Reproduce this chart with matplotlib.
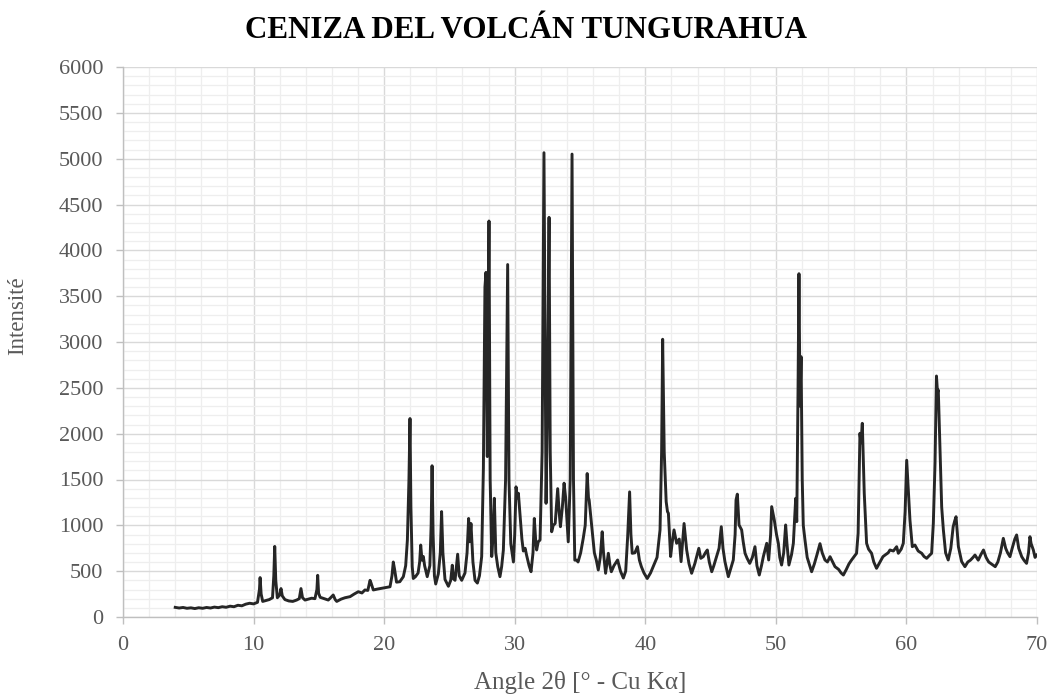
import matplotlib
matplotlib.use("Agg")
import matplotlib.pyplot as plt
from matplotlib.ticker import MultipleLocator

angle = [
    4.0, 4.3, 4.6, 4.9, 5.2, 5.5, 5.8, 6.1, 6.4, 6.7, 7.0, 7.3, 7.6, 7.9, 8.2, 8.5, 8.8, 9.1, 9.4, 9.7,
    10.0, 10.3, 10.45, 10.5, 10.58, 10.7, 10.9, 11.2, 11.45, 11.55, 11.62, 11.7, 11.82, 12.0, 12.1, 12.2,
    12.4, 12.7, 13.0, 13.3, 13.5, 13.63, 13.75, 13.94, 14.2, 14.45, 14.7, 14.85, 14.91, 14.98, 15.1, 15.4,
    15.72, 15.9, 16.1, 16.25, 16.37, 16.7, 17.0, 17.39, 17.7, 18.02, 18.3, 18.53, 18.75, 18.92, 19.0, 19.17,
    19.5, 19.81, 20.1, 20.45, 20.6, 20.7, 20.8, 20.95, 21.2, 21.47, 21.65, 21.78, 21.9, 21.98, 22.05, 22.15,
    22.23, 22.4, 22.6, 22.72, 22.8, 22.9, 23.0, 23.1, 23.3, 23.5, 23.6, 23.67, 23.75, 23.85, 23.95, 24.15,
    24.3, 24.4, 24.5, 24.66, 24.92, 25.1, 25.22, 25.3, 25.43, 25.63, 25.75, 25.94, 26.19, 26.35, 26.47,
    26.55, 26.65, 26.8, 26.96, 27.14, 27.3, 27.47, 27.6, 27.72, 27.8, 27.9, 28.03, 28.12, 28.24, 28.35,
    28.44, 28.55, 28.7, 28.87, 29.0, 29.13, 29.3, 29.46, 29.56, 29.7, 29.9, 30.0, 30.1, 30.2, 30.28, 30.4,
    30.55, 30.66, 30.8, 30.9, 31.1, 31.25, 31.4, 31.5, 31.6, 31.68, 31.8, 31.94, 32.1, 32.24, 32.35, 32.4,
    32.5, 32.63, 32.72, 32.83, 32.95, 33.1, 33.29, 33.4, 33.5, 33.65, 33.78, 33.9, 34.1, 34.25, 34.39, 34.5,
    34.6, 34.75, 34.85, 35.05, 35.25, 35.4, 35.55, 35.65, 35.7, 35.9, 36.1, 36.25, 36.4, 36.55, 36.7, 36.8,
    36.96, 37.17, 37.3, 37.4, 37.6, 37.88, 38.1, 38.32, 38.5, 38.65, 38.8, 38.9, 39.0, 39.2, 39.4, 39.55,
    39.7, 39.9, 40.15, 40.4, 40.6, 40.9, 41.13, 41.25, 41.33, 41.45, 41.6, 41.7, 41.77, 41.94, 42.05, 42.2,
    42.4, 42.6, 42.74, 42.97, 43.17, 43.35, 43.55, 43.8, 44.1, 44.25, 44.44, 44.6, 44.75, 44.9, 45.09,
    45.25, 45.46, 45.65, 45.82, 45.95, 46.1, 46.36, 46.55, 46.74, 46.88, 46.95, 47.05, 47.18, 47.38, 47.5,
    47.64, 47.8, 48.0, 48.2, 48.4, 48.55, 48.73, 48.9, 49.04, 49.3, 49.45, 49.6, 49.68, 49.88, 50.05, 50.19,
    50.3, 50.44, 50.6, 50.75, 50.85, 51.0, 51.2, 51.34, 51.52, 51.6, 51.7, 51.77, 51.85, 51.93, 52.02, 52.1,
    52.23, 52.4, 52.6, 52.74, 52.95, 53.15, 53.38, 53.55, 53.76, 53.95, 54.15, 54.35, 54.53, 54.8, 55.0,
    55.17, 55.4, 55.6, 55.8, 56.0, 56.18, 56.3, 56.44, 56.52, 56.62, 56.77, 56.95, 57.1, 57.33, 57.5, 57.71,
    57.9, 58.2, 58.4, 58.6, 58.74, 59.0, 59.25, 59.38, 59.6, 59.76, 59.9, 60.02, 60.1, 60.27, 60.45, 60.65,
    60.9, 61.17, 61.35, 61.55, 61.75, 61.93, 62.06, 62.19, 62.3, 62.38, 62.44, 62.57, 62.7, 62.83, 63.0,
    63.2, 63.4, 63.58, 63.7, 63.8, 63.98, 64.23, 64.48, 64.7, 64.9, 65.1, 65.25, 65.5, 65.7, 65.9, 66.1,
    66.3, 66.5, 66.8, 67.0, 67.2, 67.42, 67.6, 67.75, 67.93, 68.1, 68.3, 68.44, 68.6, 68.83, 69.0, 69.2,
    69.35, 69.46, 69.55, 69.72, 69.85, 69.97,
]

intensity = [
    105, 98, 104, 95, 100, 92, 101, 95, 104, 98, 108, 102, 112, 106, 118, 112, 128, 122, 140, 150,
    143, 160, 300, 430, 250, 170, 178, 190, 210, 450, 770, 400, 210, 240, 310, 230,
    190, 175, 170, 185, 200, 310, 210, 185, 195, 205, 200, 300, 455, 260, 215, 200,
    185, 210, 240, 190, 170, 195, 210, 222, 250, 276, 262, 295, 290, 400, 370, 295,
    305, 313, 320, 330, 450, 600, 520, 380, 385, 440, 560, 840, 1500, 2165, 1200, 550,
    420, 440, 480, 600, 785, 620, 660, 560, 440, 560, 1000, 1650, 900, 450, 360, 470,
    700, 1150, 700, 410, 335, 400, 565, 420, 400, 685, 450, 400, 480, 700, 1075,
    820, 1020, 600, 400, 370, 450, 660, 1620, 3600, 3760, 1750, 4320, 1500, 660, 900,
    1295, 700, 550, 440, 550, 730, 1500, 3845, 1500, 800, 600, 900, 1420, 1300, 1350, 1130,
    850, 720, 750, 680, 560, 494, 700, 1075, 850, 731, 820, 840, 1800, 5065, 2500, 1240,
    2200, 4360, 1800, 930, 1000, 1020, 1400, 1150, 985, 1200, 1460, 1300, 820, 1500, 5050, 1500,
    620, 620, 600, 700, 860, 1000, 1565, 1300, 1276, 985, 700, 620, 513, 650, 930, 700,
    477, 695, 560, 494, 560, 622, 500, 425, 500, 876, 1365, 900, 695, 700, 767, 620,
    549, 480, 420, 480, 549, 650, 950, 1800, 3030, 1800, 1258, 1150, 1131, 660, 800, 950,
    804, 850, 604, 1020, 731, 580, 477, 585, 749, 640, 658, 700, 731, 600, 494,
    560, 658, 750, 985, 750, 604, 440, 530, 622, 900, 1276, 1340, 1004, 950, 820,
    695, 640, 585, 650, 767, 560, 458, 560, 658, 804, 622, 900, 1204, 1058, 900, 804,
    650, 567, 700, 1004, 800, 567, 680, 804, 1295, 1040, 2500, 3745, 2300, 2840, 1500, 1000,
    840, 650, 560, 494, 580, 680, 800, 700, 622, 600, 658, 600, 549, 520, 480,
    458, 520, 580, 622, 660, 695, 913, 2004, 1900, 2113, 1349, 804, 740, 695, 600, 531,
    580, 658, 680, 700, 731, 720, 767, 695, 740, 804, 1150, 1710, 1500, 1058, 767, 785,
    720, 695, 660, 640, 670, 695, 1022, 1677, 2629, 2450, 2476, 1858, 1200, 949, 700,
    622, 750, 985, 1050, 1094, 767, 604, 549, 600, 620, 650, 676, 620, 680, 731, 650,
    600, 580, 549, 600, 700, 858, 750, 700, 658, 750, 850, 895, 750, 658, 620, 585,
    700, 876, 800, 731, 650, 676,
]

title = "CENIZA DEL VOLCÁN TUNGURAHUA"
xlabel = "Angle 2θ [° - Cu Kα]"
ylabel = "Intensité"

serif = ["Liberation Serif", "DejaVu Serif"]
plt.rcParams["font.family"] = serif

fig = plt.figure(figsize=(10.52, 6.95), dpi=100)
ax = fig.add_axes([123 / 1052, 78 / 695, 914 / 1052, 550 / 695])

ax.plot(angle, intensity, color="#262626", linewidth=2.1, solid_joinstyle="round")

ax.set_xlim(0, 70)
ax.set_ylim(0, 6000)
ax.xaxis.set_major_locator(MultipleLocator(10))
ax.xaxis.set_minor_locator(MultipleLocator(2))
ax.yaxis.set_major_locator(MultipleLocator(500))
ax.yaxis.set_minor_locator(MultipleLocator(100))

ax.grid(which="major", color="#d9d9d9", linewidth=1.0)
ax.grid(which="minor", color="#eeeeee", linewidth=0.9)
ax.set_axisbelow(True)

for s in ["top", "right"]:
    ax.spines[s].set_visible(False)
for s in ["left", "bottom"]:
    ax.spines[s].set_color("#bfbfbf")
    ax.spines[s].set_linewidth(1.0)

ax.tick_params(which="major", length=5, width=1.0, color="#bfbfbf",
               labelsize=16, labelcolor="#595959", pad=9)
ax.tick_params(which="minor", length=0)

fig.text(0.5, 1 - 30 / 695, title, ha="center", va="center",
         fontsize=22.3, fontweight="bold", color="#000000")
fig.text(580 / 1052, 1 - 683 / 695, xlabel, ha="center", va="center",
         fontsize=18, color="#595959")
fig.text(18 / 1052, 1 - 316 / 695, ylabel, ha="center", va="center",
         fontsize=16.5, color="#595959", rotation=90)

fig.savefig("out.png", dpi=100)
